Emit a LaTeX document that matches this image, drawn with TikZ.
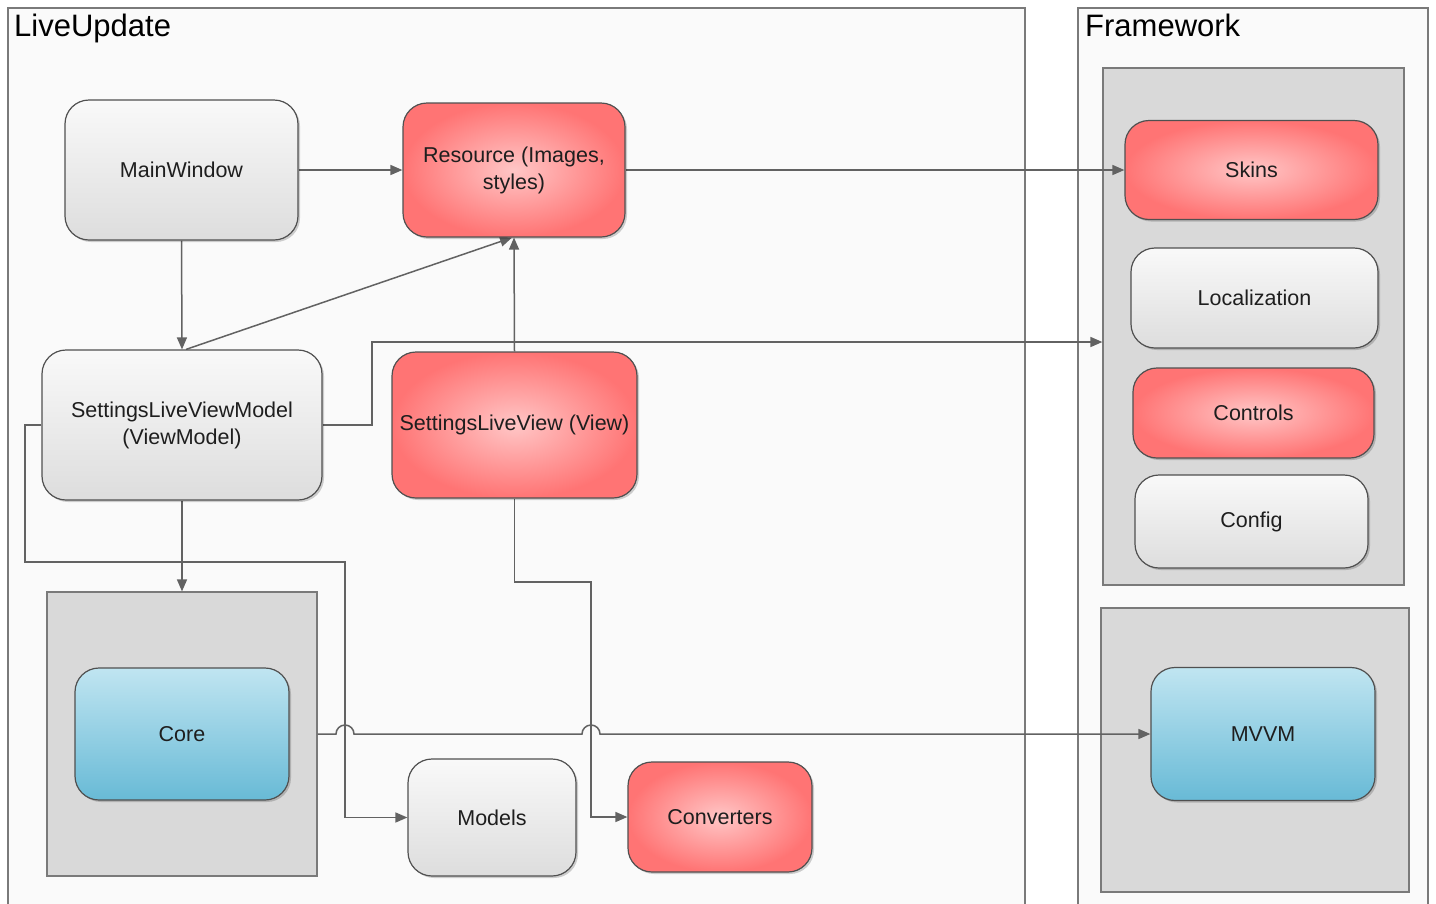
\documentclass[tikz,border=0pt]{standalone}
\usepackage{fontspec}
\setmainfont{Liberation Sans}
\usetikzlibrary{arrows.meta,shadows,calc}
\pgfdeclarelayer{back}
\pgfdeclarelayer{mid}
\pgfsetlayers{back,mid,main}
\definecolor{boxline}{HTML}{505050}
\definecolor{cline}{HTML}{7A7A7A}
\definecolor{cfill}{HTML}{D9D9D9}
\definecolor{outerfill}{HTML}{FAFAFA}
\definecolor{lc}{HTML}{626262}
\definecolor{txt}{HTML}{1E1E1E}
\definecolor{gtop}{HTML}{F9F9F9}
\definecolor{gbot}{HTML}{DDDDDD}
\definecolor{rin}{HTML}{FFC6C6}
\definecolor{rout}{HTML}{FF7474}
\definecolor{btop}{HTML}{C0E5F1}
\definecolor{bbot}{HTML}{68BAD6}
\begin{document}
\begin{tikzpicture}[x=1pt,y=-1pt,
  box/.style={draw=boxline, line width=1.2pt, rounded corners=24pt, align=center,
    font=\fontsize{21.5}{27}\selectfont, text=txt, inner sep=0pt,
    drop shadow={shadow xshift=2pt, shadow yshift=-2pt, opacity=0.18, fill=black}},
  graynode/.style={box, top color=gtop, bottom color=gbot},
  rednode/.style={box, inner color=rin, outer color=rout},
  bluenode/.style={box, top color=btop, bottom color=bbot},
  container/.style={draw=cline, fill=cfill, line width=1.2pt, inner sep=0pt},
  outerbox/.style={draw=cline, fill=outerfill, line width=1.2pt, inner sep=0pt},
  conn/.style={draw=lc, line width=1.5pt, -{Triangle[length=12pt,width=10pt]}},
  title/.style={font=\fontsize{31}{36}\selectfont, text=black, inner sep=0pt, anchor=base west}
]
\clip (0,0) rectangle (1436,903);

\begin{pgfonlayer}{back}
  \fill[white] (0,0) rectangle (1436,903);
  \node[outerbox, minimum width=1017pt, minimum height=920pt] (live) at (516.5,468) {};
  \node[outerbox, minimum width=350pt, minimum height=920pt] (fw) at (1253,468) {};
  \node[container, minimum width=270pt, minimum height=284pt] (corebox) at (182,734) {};
  \node[container, minimum width=301pt, minimum height=517pt] (fwtop) at (1253.5,326.5) {};
  \node[container, minimum width=308pt, minimum height=284pt] (mvvmbox) at (1255,750) {};
\end{pgfonlayer}

\node[title] (t1) at (14,36) {LiveUpdate};
\node[title] (t2) at (1085,36) {Framework};

\node[graynode, minimum width=233pt, minimum height=140pt] (mw) at (181.5,170) {MainWindow};
\node[rednode, minimum width=222pt, minimum height=134pt] (res) at (514,170) {Resource (Images,\\ styles)};
\node[graynode, minimum width=280pt, minimum height=150pt] (slvm) at (182,425) {SettingsLiveViewModel\\(ViewModel)};
\node[rednode, minimum width=245pt, minimum height=146pt] (slv) at (514.5,425) {SettingsLiveView (View)};
\node[bluenode, minimum width=214pt, minimum height=132pt] (core) at (182,734) {Core};
\node[graynode, minimum width=168pt, minimum height=117pt] (models) at (492,817.5) {Models};
\node[rednode, minimum width=184pt, minimum height=110pt] (conv) at (720,817) {Converters};
\node[rednode, minimum width=253pt, minimum height=99pt] (skins) at (1251.5,170) {Skins};
\node[graynode, minimum width=247pt, minimum height=100pt] (loc) at (1254.5,298) {Localization};
\node[rednode, minimum width=241pt, minimum height=90pt] (ctrl) at (1253.5,413) {Controls};
\node[graynode, minimum width=233pt, minimum height=93pt] (cfg) at (1251.5,521.5) {Config};
\node[bluenode, minimum width=224pt, minimum height=133pt] (mvvm) at (1263,734) {MVVM};

\begin{pgfonlayer}{mid}
  \draw[conn] (mw.east) -- (res.west);
  \draw[conn] (res.east) -- (skins.west);
  \draw[conn] (mw.south) -- (slvm.north);
  \draw[conn] ($(slvm.north)+(4,0)$) -- ($(res.south)+(-2,0)$);
  \draw[conn] (slv.north) -- (res.south);
  \draw[conn] (slvm.east) -- (372,425) |- ($(fwtop.west)+(0,15.5)$);
  \draw[conn] (slvm.south) -- (corebox.north);
  \draw[conn] (slvm.west) -- (25,425) -- (25,562) -- (345,562) |- (models.west);
  \draw[conn] (slv.south) |- (591,582) |- (conv.west);
  \draw[conn] (corebox.east) -- (336,734) arc[start angle=180, end angle=0, radius=9pt]
     -- (582,734) arc[start angle=180, end angle=0, radius=9pt] -- (mvvm.west);
\end{pgfonlayer}
\end{tikzpicture}
\end{document}
